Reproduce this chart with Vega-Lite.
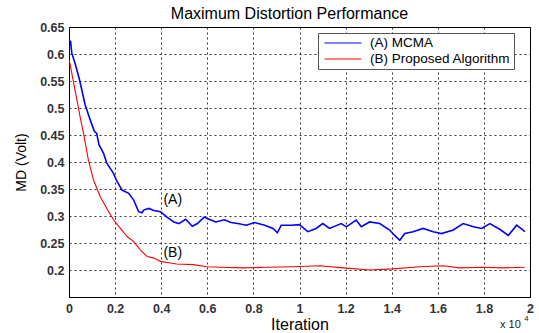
{
  "$schema": "https://vega.github.io/schema/vega-lite/v6.json",
  "width": 461,
  "height": 270,
  "autosize": "none",
  "padding": {"left": 69, "top": 27, "right": 9, "bottom": 36},
  "background": "white",
  "title": {"text": "Maximum Distortion Performance", "fontSize": 16, "font": "Liberation Sans", "fontWeight": "normal", "color": "#000", "offset": -1, "dx": -10, "anchor": "middle"},
  "config": {
    "view": {"stroke": "#000", "strokeWidth": 1},
    "axis": {"domainColor": "#000", "gridColor": "#000", "gridDash": [2, 3], "gridOpacity": 0.8, "ticks": false, "labelOverlap": false, "labelFont": "Liberation Sans", "labelFontWeight": "bold", "labelColor": "#333", "labelFontSize": 12.5, "titleFont": "Liberation Sans", "titleFontWeight": "normal", "titleColor": "#000"}
  },
  "datasets": {
    "curves": [
      {"series": "(A) MCMA", "x": 0, "y": 0.625},
      {"series": "(A) MCMA", "x": 0.007, "y": 0.623},
      {"series": "(A) MCMA", "x": 0.012, "y": 0.602},
      {"series": "(A) MCMA", "x": 0.026, "y": 0.583},
      {"series": "(A) MCMA", "x": 0.044, "y": 0.555},
      {"series": "(A) MCMA", "x": 0.07, "y": 0.506},
      {"series": "(A) MCMA", "x": 0.092, "y": 0.478},
      {"series": "(A) MCMA", "x": 0.11, "y": 0.457},
      {"series": "(A) MCMA", "x": 0.12, "y": 0.453},
      {"series": "(A) MCMA", "x": 0.13, "y": 0.432},
      {"series": "(A) MCMA", "x": 0.15, "y": 0.416},
      {"series": "(A) MCMA", "x": 0.164, "y": 0.398},
      {"series": "(A) MCMA", "x": 0.193, "y": 0.379},
      {"series": "(A) MCMA", "x": 0.205, "y": 0.367},
      {"series": "(A) MCMA", "x": 0.23, "y": 0.348},
      {"series": "(A) MCMA", "x": 0.259, "y": 0.342},
      {"series": "(A) MCMA", "x": 0.28, "y": 0.33},
      {"series": "(A) MCMA", "x": 0.302, "y": 0.308},
      {"series": "(A) MCMA", "x": 0.317, "y": 0.306},
      {"series": "(A) MCMA", "x": 0.324, "y": 0.311},
      {"series": "(A) MCMA", "x": 0.346, "y": 0.314},
      {"series": "(A) MCMA", "x": 0.368, "y": 0.31},
      {"series": "(A) MCMA", "x": 0.397, "y": 0.308},
      {"series": "(A) MCMA", "x": 0.425, "y": 0.298},
      {"series": "(A) MCMA", "x": 0.455, "y": 0.289},
      {"series": "(A) MCMA", "x": 0.477, "y": 0.286},
      {"series": "(A) MCMA", "x": 0.506, "y": 0.294},
      {"series": "(A) MCMA", "x": 0.535, "y": 0.281},
      {"series": "(A) MCMA", "x": 0.557, "y": 0.286},
      {"series": "(A) MCMA", "x": 0.586, "y": 0.298},
      {"series": "(A) MCMA", "x": 0.608, "y": 0.294},
      {"series": "(A) MCMA", "x": 0.637, "y": 0.289},
      {"series": "(A) MCMA", "x": 0.674, "y": 0.293},
      {"series": "(A) MCMA", "x": 0.703, "y": 0.288},
      {"series": "(A) MCMA", "x": 0.732, "y": 0.286},
      {"series": "(A) MCMA", "x": 0.769, "y": 0.283},
      {"series": "(A) MCMA", "x": 0.805, "y": 0.288},
      {"series": "(A) MCMA", "x": 0.849, "y": 0.283},
      {"series": "(A) MCMA", "x": 0.885, "y": 0.277},
      {"series": "(A) MCMA", "x": 0.904, "y": 0.269},
      {"series": "(A) MCMA", "x": 0.921, "y": 0.283},
      {"series": "(A) MCMA", "x": 0.965, "y": 0.283},
      {"series": "(A) MCMA", "x": 1.0, "y": 0.284},
      {"series": "(A) MCMA", "x": 1.036, "y": 0.271},
      {"series": "(A) MCMA", "x": 1.072, "y": 0.277},
      {"series": "(A) MCMA", "x": 1.101, "y": 0.286},
      {"series": "(A) MCMA", "x": 1.13, "y": 0.277},
      {"series": "(A) MCMA", "x": 1.181, "y": 0.286},
      {"series": "(A) MCMA", "x": 1.203, "y": 0.28},
      {"series": "(A) MCMA", "x": 1.246, "y": 0.2925},
      {"series": "(A) MCMA", "x": 1.268, "y": 0.28},
      {"series": "(A) MCMA", "x": 1.304, "y": 0.289},
      {"series": "(A) MCMA", "x": 1.348, "y": 0.286},
      {"series": "(A) MCMA", "x": 1.391, "y": 0.274},
      {"series": "(A) MCMA", "x": 1.413, "y": 0.264},
      {"series": "(A) MCMA", "x": 1.435, "y": 0.255},
      {"series": "(A) MCMA", "x": 1.457, "y": 0.2675},
      {"series": "(A) MCMA", "x": 1.493, "y": 0.271},
      {"series": "(A) MCMA", "x": 1.536, "y": 0.277},
      {"series": "(A) MCMA", "x": 1.58, "y": 0.271},
      {"series": "(A) MCMA", "x": 1.616, "y": 0.2675},
      {"series": "(A) MCMA", "x": 1.667, "y": 0.274},
      {"series": "(A) MCMA", "x": 1.71, "y": 0.286},
      {"series": "(A) MCMA", "x": 1.754, "y": 0.28},
      {"series": "(A) MCMA", "x": 1.79, "y": 0.277},
      {"series": "(A) MCMA", "x": 1.826, "y": 0.286},
      {"series": "(A) MCMA", "x": 1.87, "y": 0.275},
      {"series": "(A) MCMA", "x": 1.906, "y": 0.264},
      {"series": "(A) MCMA", "x": 1.942, "y": 0.283},
      {"series": "(A) MCMA", "x": 1.978, "y": 0.271},
      {"series": "(B) Proposed Algorithm", "x": 0, "y": 0.588},
      {"series": "(B) Proposed Algorithm", "x": 0.004, "y": 0.583},
      {"series": "(B) Proposed Algorithm", "x": 0.019, "y": 0.549},
      {"series": "(B) Proposed Algorithm", "x": 0.033, "y": 0.518},
      {"series": "(B) Proposed Algorithm", "x": 0.048, "y": 0.484},
      {"series": "(B) Proposed Algorithm", "x": 0.063, "y": 0.453},
      {"series": "(B) Proposed Algorithm", "x": 0.084, "y": 0.404},
      {"series": "(B) Proposed Algorithm", "x": 0.106, "y": 0.367},
      {"series": "(B) Proposed Algorithm", "x": 0.135, "y": 0.336},
      {"series": "(B) Proposed Algorithm", "x": 0.164, "y": 0.314},
      {"series": "(B) Proposed Algorithm", "x": 0.193, "y": 0.293},
      {"series": "(B) Proposed Algorithm", "x": 0.223, "y": 0.277},
      {"series": "(B) Proposed Algorithm", "x": 0.252, "y": 0.262},
      {"series": "(B) Proposed Algorithm", "x": 0.28, "y": 0.253},
      {"series": "(B) Proposed Algorithm", "x": 0.31, "y": 0.237},
      {"series": "(B) Proposed Algorithm", "x": 0.339, "y": 0.225},
      {"series": "(B) Proposed Algorithm", "x": 0.368, "y": 0.222},
      {"series": "(B) Proposed Algorithm", "x": 0.397, "y": 0.216},
      {"series": "(B) Proposed Algorithm", "x": 0.426, "y": 0.214},
      {"series": "(B) Proposed Algorithm", "x": 0.467, "y": 0.211},
      {"series": "(B) Proposed Algorithm", "x": 0.539, "y": 0.21},
      {"series": "(B) Proposed Algorithm", "x": 0.597, "y": 0.206},
      {"series": "(B) Proposed Algorithm", "x": 0.655, "y": 0.205},
      {"series": "(B) Proposed Algorithm", "x": 0.756, "y": 0.204},
      {"series": "(B) Proposed Algorithm", "x": 0.857, "y": 0.205},
      {"series": "(B) Proposed Algorithm", "x": 0.973, "y": 0.206},
      {"series": "(B) Proposed Algorithm", "x": 1.088, "y": 0.208},
      {"series": "(B) Proposed Algorithm", "x": 1.189, "y": 0.204},
      {"series": "(B) Proposed Algorithm", "x": 1.305, "y": 0.2},
      {"series": "(B) Proposed Algorithm", "x": 1.406, "y": 0.202},
      {"series": "(B) Proposed Algorithm", "x": 1.522, "y": 0.206},
      {"series": "(B) Proposed Algorithm", "x": 1.623, "y": 0.208},
      {"series": "(B) Proposed Algorithm", "x": 1.695, "y": 0.204},
      {"series": "(B) Proposed Algorithm", "x": 1.796, "y": 0.205},
      {"series": "(B) Proposed Algorithm", "x": 1.883, "y": 0.204},
      {"series": "(B) Proposed Algorithm", "x": 1.977, "y": 0.205}
    ],
    "notes": [
      {"label": "(A)", "x": 0.45, "y": 0.33},
      {"label": "(B)", "x": 0.45, "y": 0.232}
    ],
    "exponent": [
      {"label": "x 10", "x": 1.915, "y": 0.098, "size": 11},
      {"label": "4", "x": 1.985, "y": 0.11, "size": 8}
    ]
  },
  "encoding": {
    "x": {"field": "x", "type": "quantitative", "scale": {"domain": [0, 2], "nice": false}, "axis": {"values": [0, 0.2, 0.4, 0.6, 0.8, 1, 1.2, 1.4, 1.6, 1.8, 2], "format": ".1~f", "title": "Iteration", "titleFontSize": 16, "titlePadding": 2, "labelPadding": 5, "labelFlush": false}},
    "y": {"field": "y", "type": "quantitative", "scale": {"domain": [0.15, 0.65], "nice": false, "zero": false}, "axis": {"values": [0.2, 0.25, 0.3, 0.35, 0.4, 0.45, 0.5, 0.55, 0.6, 0.65], "format": ".2~f", "title": "MD (Volt)", "titleFontSize": 14, "titlePadding": 11, "labelPadding": 5, "labelFlush": false}}
  },
  "layer": [
    {
      "data": {"name": "curves"},
      "transform": [{"filter": "datum.series === '(A) MCMA'"}],
      "mark": {"type": "line", "clip": true, "strokeWidth": 1.6},
      "encoding": {
        "color": {"field": "series", "type": "nominal", "scale": {"domain": ["(A) MCMA", "(B) Proposed Algorithm"], "range": ["#0000ff", "#ff0000"]},
          "legend": {"title": null, "orient": "none", "legendX": 249, "legendY": 6, "direction": "vertical", "symbolType": "M-3,0H3", "symbolSize": 152, "symbolStrokeWidth": 1, "labelFont": "Liberation Sans", "labelFontSize": 13.5, "labelColor": "#000", "labelOffset": 20, "rowPadding": 2, "padding": 3, "fillColor": "white", "strokeColor": "#555", "symbolOffset": 15}}
      }
    },
    {
      "data": {"name": "curves"},
      "transform": [{"filter": "datum.series === '(B) Proposed Algorithm'"}],
      "mark": {"type": "line", "clip": true, "strokeWidth": 1.1},
      "encoding": {
        "color": {"field": "series", "type": "nominal"}
      }
    },
    {
      "data": {"name": "notes"},
      "mark": {"type": "text", "font": "Liberation Sans", "fontSize": 14, "color": "#000", "align": "center", "baseline": "middle"},
      "encoding": {
        "text": {"field": "label"}
      }
    },
    {
      "data": {"name": "exponent"},
      "mark": {"type": "text", "font": "Liberation Sans", "color": "#222", "align": "center", "baseline": "middle"},
      "encoding": {
        "text": {"field": "label"},
        "size": {"field": "size", "type": "quantitative", "scale": null, "legend": null}
      }
    }
  ]
}
